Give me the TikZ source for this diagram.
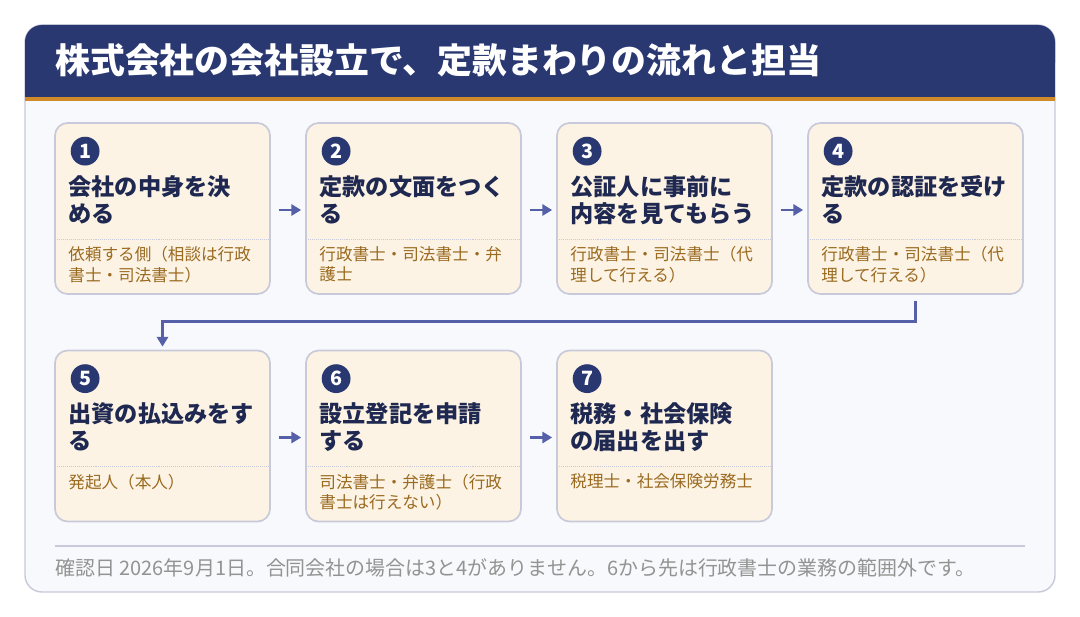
\documentclass[tikz,border=0pt]{standalone}
\usepackage{fontspec}
\setmainfont{Noto Sans CJK JP}
\usetikzlibrary{positioning,arrows.meta,calc}
\definecolor{navy}{HTML}{2A3872}
\definecolor{ink}{HTML}{1E2850}
\definecolor{gold}{HTML}{D08A2A}
\definecolor{brown}{HTML}{9A6A20}
\definecolor{cream}{HTML}{FCF3E4}
\definecolor{edge}{HTML}{C8C9DA}
\definecolor{flow}{HTML}{5560A8}
\definecolor{paper}{HTML}{F8F9FC}
\tikzset{
  card/.style={draw=edge, line width=1.2pt, fill=cream, rounded corners=9pt,
    minimum width=5.375cm, minimum height=4.275cm, inner sep=0pt},
  num/.style={circle, fill=navy, text=white, font=\bfseries\fontsize{14}{14}\selectfont,
    minimum size=0.72cm, inner sep=0pt},
  head/.style={font=\bfseries\fontsize{16.5}{19}\selectfont, text=ink, anchor=north west,
    align=left, inner sep=0pt},
  who/.style={font=\fontsize{11.8}{14.5}\selectfont, text=brown, anchor=north west,
    align=left, inner sep=0pt},
  flowarrow/.style={-{Triangle[length=7pt,width=8pt]}, flow, line width=2pt},
}
\begin{document}
\begin{tikzpicture}[x=0.025cm, y=-0.025cm]
\useasboundingbox (0,0) rectangle (1080,617);
\fill[white] (0,0) rectangle (1080,617);
% panel
\draw[edge, line width=1pt, fill=paper, rounded corners=12pt] (25,25) rectangle (1055,592);
\fill[navy, rounded corners=12pt] (25,25) rectangle (1055,80);
\fill[navy] (25,60) rectangle (1055,97);
\fill[gold] (25,97) rectangle (1055,101);
\node[anchor=west, text=white, font=\bfseries\fontsize{24.8}{25}\selectfont, inner sep=0pt] (title) at (55,60)
  {株式会社の会社設立で、定款まわりの流れと担当};

% cards
\node[card] (c1) at (162.5,208.5) {};
\node[card] (c2) at (413.5,208.5) {};
\node[card] (c3) at (664.5,208.5) {};
\node[card] (c4) at (915.5,208.5) {};
\node[card] (c5) at (162.5,436) {};
\node[card] (c6) at (413.5,436) {};
\node[card] (c7) at (664.5,436) {};

\foreach \c/\n/\t/\w in {
  c1/1/{会社の中身を決\\める}/{依頼する側（相談は行政\\書士・司法書士）},
  c2/2/{定款の文面をつく\\る}/{行政書士・司法書士・弁\\護士},
  c3/3/{公証人に事前に\\内容を見てもらう}/{行政書士・司法書士（代\\理して行える）},
  c4/4/{定款の認証を受け\\る}/{行政書士・司法書士（代\\理して行える）},
  c5/5/{出資の払込みをす\\る}/{発起人（本人）},
  c6/6/{設立登記を申請\\する}/{司法書士・弁護士（行政\\書士は行えない）},
  c7/7/{税務・社会保険\\の届出を出す}/{税理士・社会保険労務士}}{
  \draw[edge, densely dotted] ($(\c.north west)+(1,117)$) -- ($(\c.north east)+(-1,117)$);
  \node[num] at ($(\c.north west)+(31,29)$) {\n};
  \node[head] at ($(\c.north west)+(14,53)$) {\t};
  \node[who] at ($(\c.north west)+(14,124)$) {\w};
}

% arrows
\draw[flowarrow] ($(c1.east)+(8,1.5)$) -- ($(c2.west)+(-4,1.5)$);
\draw[flowarrow] ($(c2.east)+(8,1.5)$) -- ($(c3.west)+(-4,1.5)$);
\draw[flowarrow] ($(c3.east)+(8,1.5)$) -- ($(c4.west)+(-4,1.5)$);
\draw[flowarrow] ($(c5.east)+(8,1.5)$) -- ($(c6.west)+(-4,1.5)$);
\draw[flowarrow] ($(c6.east)+(8,1.5)$) -- ($(c7.west)+(-4,1.5)$);
\draw[flowarrow] ($(c4.south)+(0,6)$) -- ++(0,21) -| ($(c5.north)+(0,-3)$);

% footer
\draw[edge, line width=0.8pt] (55,546) -- (1025,546);
\node[anchor=west, text=gray!85, font=\fontsize{14.2}{14}\selectfont, inner sep=0pt] (note) at (55,568)
  {確認日 2026年9月1日。合同会社の場合は3と4がありません。6から先は行政書士の業務の範囲外です。};
\end{tikzpicture}
\end{document}
